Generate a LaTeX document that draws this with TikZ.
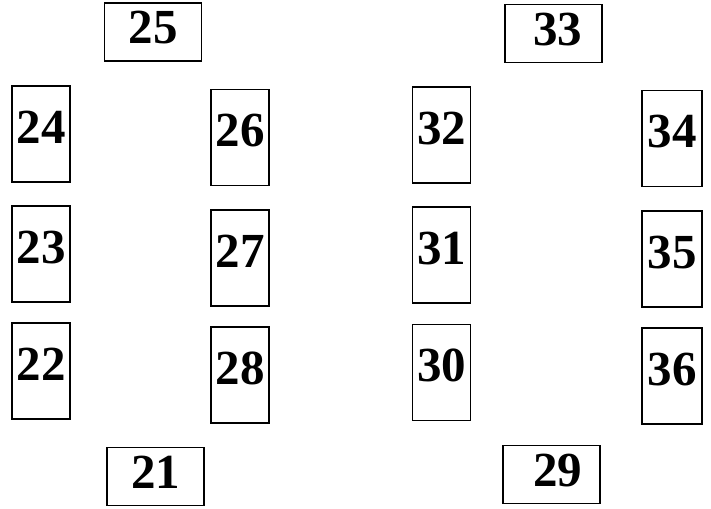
\documentclass[tikz,border=0pt]{standalone}
\usepackage{fontspec}
\setmainfont{Liberation Serif}
\usepackage{tikz}
\usetikzlibrary{positioning}

\begin{document}
\begin{tikzpicture}[
        x=1pt, y=-1pt,
        seat/.style={draw, rectangle, line width=1.5pt, inner sep=0pt, font=\fontsize{49}{49}\selectfont\bfseries},
        tallbox/.style={seat, minimum width=58pt, minimum height=96pt, text height=32pt, text depth=14pt},
        widebox/.style={seat, minimum width=97pt, minimum height=58pt, text height=32pt, text depth=8pt}
    ]
        \useasboundingbox (0,0) rectangle (711,508);

        % Left group
        \node[widebox] (b25) at (153,32) {25};
        \node[tallbox] (b24) at (41,134) {24};
        \node[tallbox] (b23) at (41,254) {23};
        \node[tallbox] (b22) at (41,371) {22};
        \node[tallbox] (b26) at (240,137.5) {26};
        \node[tallbox] (b27) at (240,258) {27};
        \node[tallbox] (b28) at (240,375) {28};
        \node[widebox] (b21) at (155.5,476.5) {21};

        % Right group
        \node[widebox] (b33) at (553.5,33.5) {\hspace{8pt}33};
        \node[tallbox] (b32) at (441.5,135) {32};
        \node[tallbox] (b31) at (441.5,255) {31};
        \node[tallbox] (b30) at (441.5,372.5) {30};
        \node[tallbox, minimum width=60pt] (b34) at (672,138.5) {34};
        \node[tallbox, minimum width=60pt] (b35) at (672,259) {35};
        \node[tallbox, minimum width=60pt] (b36) at (672,376) {36};
        \node[widebox] (b29) at (551.5,474.5) {\hspace{12pt}29};
    \end{tikzpicture}
\end{document}
